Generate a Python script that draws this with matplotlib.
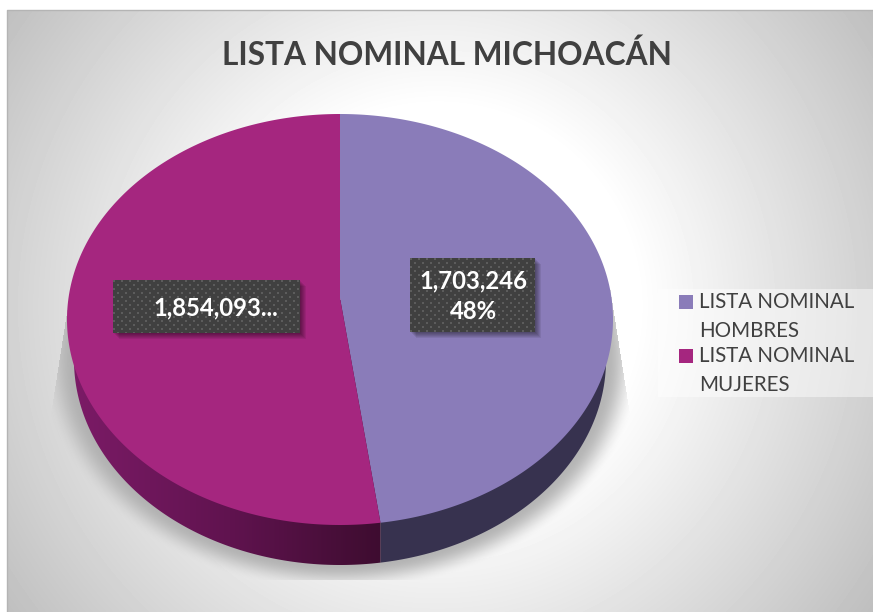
import numpy as np
import matplotlib
matplotlib.use('Agg')
import matplotlib.pyplot as plt
from matplotlib.colors import LinearSegmentedColormap
from matplotlib.patches import Polygon, Rectangle

title = 'LISTA NOMINAL MICHOACÁN'
categories = ['LISTA NOMINAL\nHOMBRES', 'LISTA NOMINAL\nMUJERES']
values = [1703246, 1854093]

purple = '#8a7cb9'
magenta = '#a5267f'
text_grey = '#404040'

W, H = 873, 612
fig = plt.figure(figsize=(W / 100, H / 100), dpi=100)
ax = fig.add_axes([0, 0, 1, 1])
ax.axis('off')

plt.rcParams['font.family'] = ['Lato', 'DejaVu Sans']

# background, radial grey to white
yy, xx = np.mgrid[0:H, 0:W]
d = np.hypot(xx - 437, yy - 306)
shade = (255 - 64 * np.clip((d - 200) / 328.0, 0, 1.1)) / 255.0
ax.imshow(shade, cmap='gray', vmin=0, vmax=1, extent=(0, W, H, 0), aspect='auto', zorder=0)
ax.add_patch(Rectangle((0, 0), 7, H, color='white', lw=0, zorder=1))
ax.add_patch(Rectangle((0, 0), W, 10, color='white', lw=0, zorder=1))
ax.plot([7, 7, W], [H, 10, 10], color='#b4b4b4', lw=1, zorder=1)

# soft shadow under the pie, cut off by a trapezoid like the original
sh_d = np.sqrt(((xx - 340) / 300.0) ** 2 + ((yy - 358) / 232.0) ** 2)
sh_a = np.clip((1.0 - sh_d) / 0.11, 0, 1)
sh_a = sh_a * sh_a * (3 - 2 * sh_a)
left_edge = 70 - (yy - 290) * 22 / 140.0
right_edge = 610 + (yy - 290) * 22 / 140.0
sh_a[(yy < 290) | (yy > 579) | (xx < left_edge) | (xx > right_edge)] = 0
sh_rgba = np.zeros((H, W, 4))
sh_rgba[..., :3] = 0.68
sh_rgba[..., 3] = sh_a * 0.9
ax.imshow(sh_rgba, extent=(0, W, H, 0), aspect='auto', zorder=2)


def sector(cx, cy, rx, ry, a0, a1, apex):
    t = np.radians(np.linspace(a0, a1, 300))
    pts = np.column_stack([cx + rx * np.sin(t), cy - ry * np.cos(t)])
    return np.vstack([apex, pts])


# the 3d tilt pulls the seam a little to the right at the front
split = 360.0 * values[0] / sum(values) - 0.9
# same x on the lower rim as on the upper rim, so the seam stays vertical
split_low = 180.0 - np.degrees(np.arcsin(273 / 266 * np.sin(np.radians(split))))
seam_x = 340 + 273 * np.sin(np.radians(split))

# side wall
ax.add_patch(Polygon(sector(340, 360, 266, 205, 0, split_low, (seam_x, 360)), color='#37324f', lw=0, zorder=3))
wall = Polygon(sector(340, 360, 266, 205, split_low, 360, (seam_x, 360)), facecolor='none', lw=0, zorder=3)
ax.add_patch(wall)
wall_cmap = LinearSegmentedColormap.from_list('wall', ['#7c1b67', '#60134f', '#3c0c2e'])
grad = ax.imshow(np.linspace(0, 1, 320)[None, :], cmap=wall_cmap, extent=(70, 390, 570, 300),
                 aspect='auto', zorder=3)
grad.set_clip_path(wall)

# top face
apex = (340, 298)
ax.add_patch(Polygon(sector(340, 319.5, 273, 205.5, 0, split, apex), color=purple, lw=0, zorder=4))
ax.add_patch(Polygon(sector(340, 319.5, 273, 205.5, split, 360, apex), color=magenta, lw=0, zorder=4))

ax.text(447, 55, title, ha='center', va='center', fontsize=22.8, fontweight='bold', color=text_grey, zorder=6)

# data labels, dark box with a dot texture
pct = round(100.0 * values[0] / sum(values))
labels = [f'{values[0]:,}\n{pct}%', f'{values[1]:,}...']
boxes = [(410, 258, 125, 74), (113, 280, 187, 53)]
text_x = [473, 216]
for lab, (x, y, w, h), tx in zip(labels, boxes, text_x):
    for i in range(6, 0, -1):
        ax.add_patch(Rectangle((x + i, y + i), w, h, color='black', alpha=0.08, lw=0, zorder=5))
    py, px = np.mgrid[0:h, 0:w]
    dots = ((px % 8 < 2) & (py % 8 < 2)) | (((px + 4) % 8 < 2) & ((py + 4) % 8 < 2))
    tex = np.where(dots, 0.36, 0.25)
    ax.imshow(tex, cmap='gray', vmin=0, vmax=1, extent=(x, x + w, y + h, y), aspect='auto',
              interpolation='nearest', zorder=5)
    ax.text(tx, y + h / 2 + 1, lab, ha='center', va='center', fontsize=17.2, fontweight='bold',
            color='white', linespacing=1.4, zorder=6)

# legend
ax.add_patch(Rectangle((658, 289), 215, 108, color='white', alpha=0.45, lw=0, zorder=5))
legend_y = [295, 349]
for cat, col, y in zip(categories, [purple, magenta], legend_y):
    ax.add_patch(Rectangle((679, y), 14, 14, color=col, lw=0, zorder=6))
    first, second = cat.split('\n')
    ax.text(699, y + 7, first, va='center', ha='left', fontsize=14.8, color=text_grey, zorder=6)
    ax.text(699, y + 36, second, va='center', ha='left', fontsize=14.8, color=text_grey, zorder=6)

ax.set_xlim(0, W)
ax.set_ylim(H, 0)
fig.savefig('out.png', dpi=100)
